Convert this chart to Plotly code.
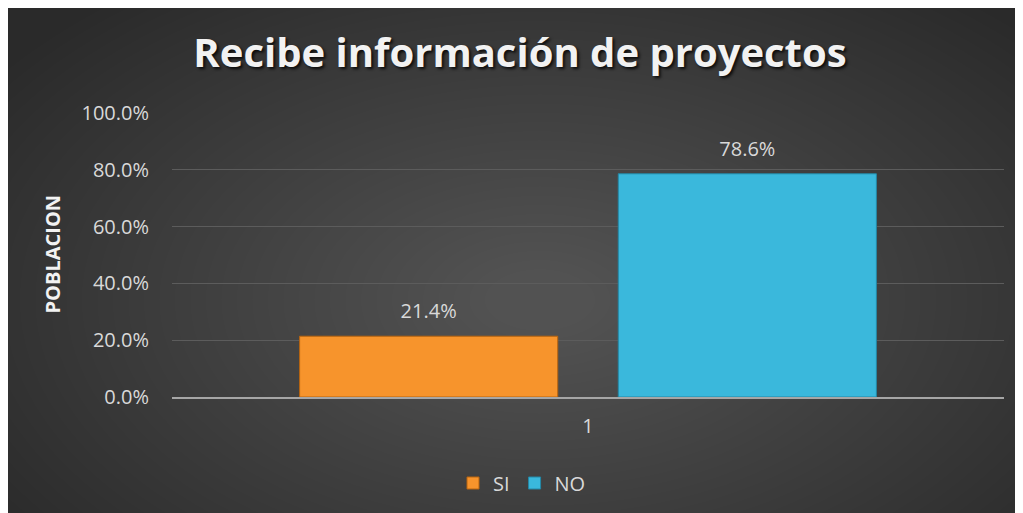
import plotly.graph_objects as go

# chart data
categories = ["1"]
series_names = ["SI", "NO"]
si_values = [0.214]
no_values = [0.786]
y_ticks = [0, 0.2, 0.4, 0.6, 0.8, 1.0]
y_tick_labels = ["0.0%", "20.0%", "40.0%", "60.0%", "80.0%", "100.0%"]

W, H = 1023, 513
OFF = 8  # page body margin
FONT = "Open Sans"
TXT = "#d9d9d9"


def px(x):
    return (x - OFF) / W


def py(y):
    return 1 - (y - OFF) / H


fig = go.Figure()

colors = ["#f7942c", "#3ab8dc"]
edges = ["#b9650f", "#2488a6"]
for name, vals, c, e in zip(series_names, [si_values, no_values], colors, edges):
    fig.add_trace(go.Bar(
        name=name, x=categories, y=vals, offsetgroup=name,
        marker=dict(color=c, line=dict(color=e, width=1)),
        hoverinfo="skip",
    ))

# value labels above the bars
for name, vals in zip(series_names, [si_values, no_values]):
    fig.add_trace(go.Scatter(
        x=categories, y=vals, offsetgroup=name, mode="markers+text",
        text=[f"{v:.1%}" for v in vals], textposition="top center",
        textfont=dict(family=FONT, size=20, color=TXT),
        marker=dict(size=19, opacity=0), showlegend=False, hoverinfo="skip",
        cliponaxis=False,
    ))

# dark background box with a soft radial highlight
fig.add_shape(type="rect", xref="paper", yref="paper", x0=px(6), x1=1.02, y0=-0.02, y1=py(8),
              fillcolor="#2a2a2a", line=dict(width=0), layer="below")
cx, cy = 540, 300
n = 40
for i in range(n):
    rx = 660 - i * 15.5
    ry = 390 - i * 9.2
    fig.add_shape(type="circle", xref="paper", yref="paper",
                  x0=px(cx - rx), x1=px(cx + rx),
                  y0=py(cy + ry), y1=py(cy - ry),
                  fillcolor="white", opacity=0.006, line=dict(width=0), layer="below")

# y axis title
fig.add_annotation(text="<b>POBLACION</b>", xref="paper", yref="paper",
                   x=px(36), y=py(254), textangle=-90, showarrow=False,
                   font=dict(family=FONT, size=20, color="#f2f2f2"))

fig.update_layout(
    width=W, height=H,
    margin=dict(l=0, r=0, t=0, b=0),
    paper_bgcolor="white",
    plot_bgcolor="rgba(0,0,0,0)",
    barmode="group", bargap=0.234, bargroupgap=0.19,
    scattermode="group", scattergap=0.234,
    title=dict(text="<b>Recibe información de proyectos</b>", x=px(520), xanchor="center",
               y=py(53), yanchor="middle",
               font=dict(family=FONT, size=40, color="#f2f2f2",
                         shadow="2px 2px 3px rgba(0,0,0,0.8)")),
    xaxis=dict(domain=[px(172), px(1004)], showgrid=False, showline=True, automargin=False,
               linecolor="#a6a6a6", linewidth=2, ticks="", ticklabelstandoff=10,
               tickfont=dict(family=FONT, size=20, color=TXT)),
    yaxis=dict(domain=[py(397), py(113)], range=[0, 1], automargin=False,
               tickvals=y_ticks, ticktext=y_tick_labels, showgrid=True,
               gridcolor="#5c5c5c", gridwidth=1, zeroline=False, showline=False,
               ticklabelstandoff=22, tickfont=dict(family=FONT, size=20, color=TXT)),
    legend=dict(orientation="h", x=px(522), xanchor="center", y=py(483),
                yanchor="middle", font=dict(family=FONT, size=20, color=TXT),
                bgcolor="rgba(0,0,0,0)", itemwidth=30),
    showlegend=True,
)

fig.write_html("out.html")
